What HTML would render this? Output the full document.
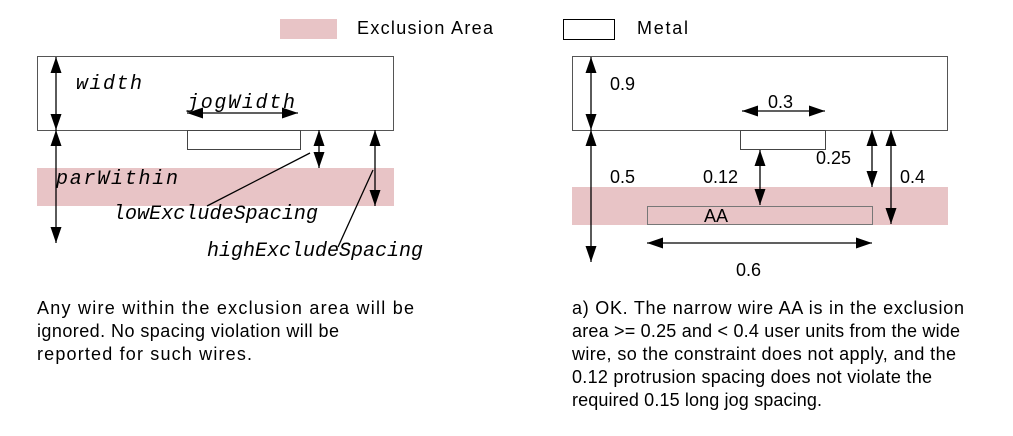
<!DOCTYPE html>
<html><head><meta charset="utf-8"><style>
html,body{margin:0;padding:0;background:#fff;}
svg{display:block;}
.s{font-family:"Liberation Sans",sans-serif;font-size:18px;fill:#000;}
.m{font-family:"Liberation Mono",monospace;font-style:italic;font-size:20px;fill:#000;}
</style></head><body>
<svg width="1013" height="436" viewBox="0 0 1013 436" xmlns="http://www.w3.org/2000/svg">
<defs>
<marker id="a" viewBox="0 0 16 11" refX="16" refY="5.5" markerWidth="16" markerHeight="11" markerUnits="userSpaceOnUse" orient="auto-start-reverse">
<path d="M0,0 L16,5.5 L0,11 z" fill="#000"/>
</marker>
</defs>
<!-- legend -->
<rect x="280" y="19" width="57" height="20" fill="#e8c4c6"/>
<text class="s" x="357" y="34" textLength="136">Exclusion Area</text>
<rect x="563.5" y="19.5" width="51" height="20" fill="#fff" stroke="#000"/>
<text class="s" x="637" y="34" textLength="51">Metal</text>

<!-- LEFT -->
<rect x="37" y="168" width="357" height="38" fill="#e8c4c6"/>
<rect x="37.5" y="56.5" width="356" height="74" fill="none" stroke="#555"/>
<rect x="187.5" y="130.5" width="113" height="19" fill="none" stroke="#444"/>
<g stroke="#000" stroke-width="1.3" fill="none">
<line x1="56" y1="57" x2="56" y2="130" marker-start="url(#a)" marker-end="url(#a)"/>
<line x1="56" y1="130" x2="56" y2="243" marker-start="url(#a)" marker-end="url(#a)"/>
<line x1="187" y1="113" x2="298" y2="113" marker-start="url(#a)" marker-end="url(#a)"/>
<line x1="319" y1="130" x2="319" y2="168" marker-start="url(#a)" marker-end="url(#a)"/>
<line x1="375" y1="130" x2="375" y2="206" marker-start="url(#a)" marker-end="url(#a)"/>
<line x1="310" y1="153" x2="207" y2="206"/>
<line x1="373" y1="170" x2="338" y2="247"/>
</g>
<text class="m" x="76" y="89" textLength="66">width</text>
<text class="m" x="187" y="108" textLength="108">jogWidth</text>
<text class="m" x="56" y="184" textLength="122">parWithin</text>
<text class="m" x="113" y="219" textLength="205">lowExcludeSpacing</text>
<text class="m" x="207" y="256" textLength="216">highExcludeSpacing</text>

<text class="s" x="37" y="314" textLength="377">Any wire within the exclusion area will be</text>
<text class="s" x="37" y="337" textLength="302">ignored. No spacing violation will be</text>
<text class="s" x="37" y="360" textLength="215">reported for such wires.</text>

<!-- RIGHT -->
<rect x="572" y="187" width="376" height="38" fill="#e8c4c6"/>
<rect x="647.5" y="206.5" width="225" height="18" fill="none" stroke="#777"/>
<text class="s" x="704" y="222">AA</text>
<rect x="572.5" y="56.5" width="375" height="74" fill="none" stroke="#555"/>
<rect x="740.5" y="130.5" width="85" height="19" fill="none" stroke="#444"/>
<g stroke="#000" stroke-width="1.3" fill="none">
<line x1="591" y1="57" x2="591" y2="130" marker-start="url(#a)" marker-end="url(#a)"/>
<line x1="591" y1="130" x2="591" y2="262" marker-start="url(#a)" marker-end="url(#a)"/>
<line x1="742" y1="111" x2="825" y2="111" marker-start="url(#a)" marker-end="url(#a)"/>
<line x1="760" y1="150" x2="760" y2="205" marker-start="url(#a)" marker-end="url(#a)"/>
<line x1="872" y1="130" x2="872" y2="187" marker-start="url(#a)" marker-end="url(#a)"/>
<line x1="891" y1="130" x2="891" y2="224" marker-start="url(#a)" marker-end="url(#a)"/>
<line x1="647" y1="243" x2="872" y2="243" marker-start="url(#a)" marker-end="url(#a)"/>
</g>
<text class="s" x="610" y="90">0.9</text>
<text class="s" x="768" y="108">0.3</text>
<text class="s" x="816" y="164">0.25</text>
<text class="s" x="610" y="183">0.5</text>
<text class="s" x="703" y="183">0.12</text>
<text class="s" x="900" y="183">0.4</text>
<text class="s" x="736" y="276">0.6</text>

<text class="s" x="572" y="314" textLength="392">a) OK. The narrow wire AA is in the exclusion</text>
<text class="s" x="572" y="337" textLength="388">area &gt;= 0.25 and &lt; 0.4 user units from the wide</text>
<text class="s" x="572" y="360" textLength="384">wire, so the constraint does not apply, and the</text>
<text class="s" x="572" y="383" textLength="360">0.12 protrusion spacing does not violate the</text>
<text class="s" x="572" y="406" textLength="250">required 0.15 long jog spacing.</text>
</svg>
</body></html>
